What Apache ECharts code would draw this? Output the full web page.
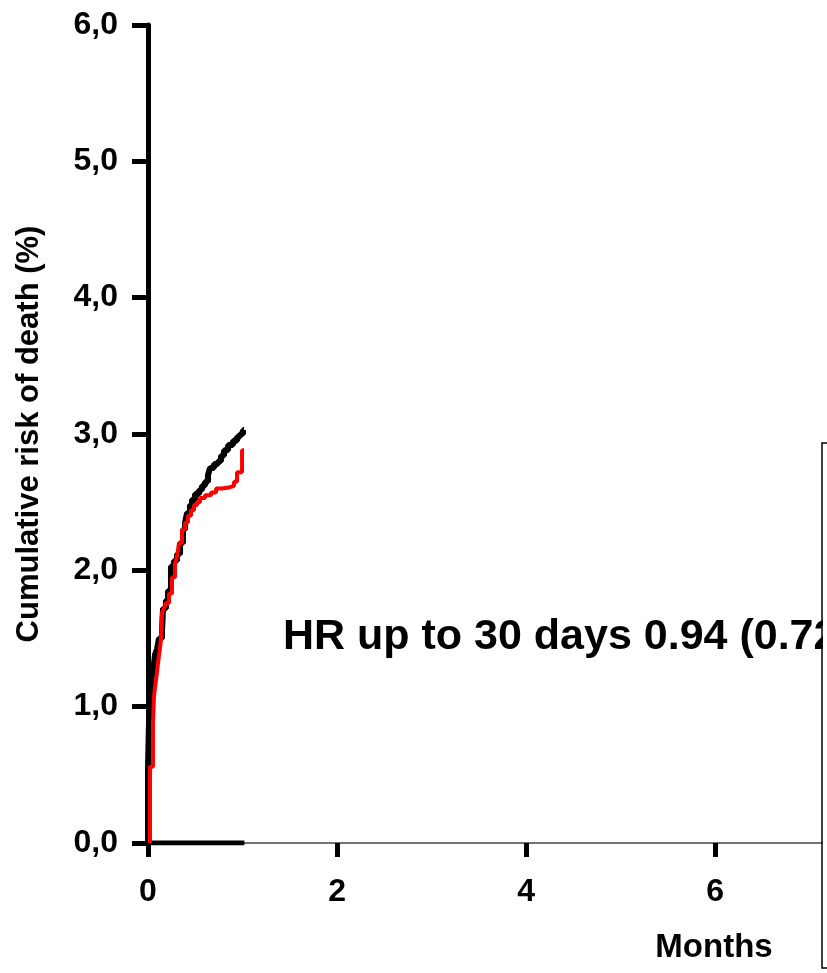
<!DOCTYPE html>
<html>
<head>
<meta charset="utf-8">
<script src="https://cdn.jsdelivr.net/npm/echarts@6/dist/echarts.min.js"></script>
<style>html,body{margin:0;padding:0;background:#fff}#c{width:827px;height:973px}</style>
</head>
<body>
<div id="c"></div>
<script>
// ---- data (months, cumulative risk %) ----
var blackTimes = [0, 0, 0.011, 0.021, 0.032, 0.053, 0.074, 0.095, 0.116, 0.148, 0.159, 0.190, 0.212, 0.243, 0.275, 0.307, 0.339, 0.370, 0.392, 0.413, 0.444, 0.466, 0.497, 0.540, 0.571, 0.603, 0.635, 0.656, 0.698, 0.741, 0.772, 0.804, 0.847, 0.899, 0.942, 0.974, 1.005, 1.016];
var blackRisk  = [0, 0.55, 0.9, 1.0, 1.2, 1.25, 1.38, 1.42, 1.5, 1.55, 1.72, 1.78, 1.85, 2.03, 2.07, 2.12, 2.2, 2.3, 2.35, 2.42, 2.48, 2.52, 2.56, 2.59, 2.62, 2.65, 2.7, 2.75, 2.78, 2.8, 2.84, 2.88, 2.92, 2.95, 2.98, 3.0, 3.03, 3.03];
var redTimes = [0.021, 0.021, 0.053, 0.063, 0.074, 0.095, 0.106, 0.127, 0.138, 0.148, 0.169, 0.190, 0.222, 0.254, 0.286, 0.307, 0.328, 0.360, 0.392, 0.423, 0.455, 0.487, 0.519, 0.550, 0.603, 0.667, 0.720, 0.783, 0.868, 0.910, 0.942, 0.995, 1.016];
var redRisk  = [0, 0.56, 0.88, 1.07, 1.14, 1.25, 1.32, 1.43, 1.5, 1.69, 1.72, 1.76, 1.83, 1.95, 2.05, 2.1, 2.2, 2.3, 2.35, 2.4, 2.44, 2.48, 2.5, 2.53, 2.55, 2.57, 2.6, 2.61, 2.62, 2.65, 2.72, 2.88, 2.88];
var followTimes = [0, 1.02];
var followRisk  = [0, 0];
var xTicks = [0, 2, 4, 6];
var yTicks = [0, 1, 2, 3, 4, 5, 6];
var xAxisName = 'Months';
var yAxisName = 'Cumulative risk of death (%)';
var hrText = 'HR up to 30 days 0.94 (0.72';

function pairs(t, v) { return t.map(function (x, i) { return [x, v[i]]; }); }

var FONT = '"Liberation Sans", Arial, Helvetica, sans-serif';
var chart = echarts.init(document.getElementById('c'), null, { renderer: 'canvas' });
chart.setOption({
  animation: false,
  backgroundColor: '#ffffff',
  grid: { left: 148, right: 5, top: 25, bottom: 130, containLabel: false },
  xAxis: {
    type: 'value', min: 0, max: 7.13, interval: 2,
    axisLine: { show: true, onZero: false, lineStyle: { color: '#444', width: 1.5 } },
    axisTick: { show: true, length: 14, customValues: xTicks, lineStyle: { color: '#000', width: 5 } },
    axisLabel: { customValues: xTicks, margin: 33, color: '#000', fontFamily: FONT, fontWeight: 'bold', fontSize: 32 },
    splitLine: { show: false }
  },
  yAxis: {
    type: 'value', min: yTicks[0], max: yTicks[yTicks.length - 1], interval: 1,
    name: yAxisName, nameLocation: 'middle', nameGap: 103,
    nameTextStyle: { color: '#000', fontFamily: FONT, fontWeight: 'bold', fontSize: 31 },
    axisLine: { show: true, lineStyle: { color: '#000', width: 5 } },
    axisTick: { show: true, length: 16, lineStyle: { color: '#000', width: 5 } },
    axisLabel: {
      margin: 30, color: '#000', fontFamily: FONT, fontWeight: 'bold', fontSize: 32,
      formatter: function (v) { return v.toFixed(1).replace('.', ','); }
    },
    splitLine: { show: false }
  },
  series: [
    { type: 'line', data: pairs(followTimes, followRisk), symbol: 'none', lineStyle: { color: '#000', width: 5 }, z: 3 },
    { type: 'line', step: 'end', data: pairs(blackTimes, blackRisk), symbol: 'none', lineStyle: { color: '#000', width: 6 }, z: 4 },
    { type: 'line', step: 'end', data: pairs(redTimes, redRisk), symbol: 'none', lineStyle: { color: '#ff0000', width: 4 }, z: 5 }
  ],
  graphic: [
    { type: 'text', left: 283, top: 616, z: 10, style: { text: hrText, fill: '#000', font: 'bold 43px ' + FONT } },
    { type: 'rect', z: 20, shape: { x: 823, y: 600, width: 4, height: 80 }, style: { fill: '#fff' } },
    { type: 'text', x: 714, y: 948, style: { text: xAxisName, fill: '#000', font: 'bold 33px ' + FONT, align: 'center', verticalAlign: 'middle' } },
    { type: 'polyline', z: 30, shape: { points: [[827, 443], [822, 443], [822, 968], [827, 968]] }, style: { stroke: '#000', lineWidth: 1.5, fill: null } }
  ]
});
</script>
</body>
</html>
